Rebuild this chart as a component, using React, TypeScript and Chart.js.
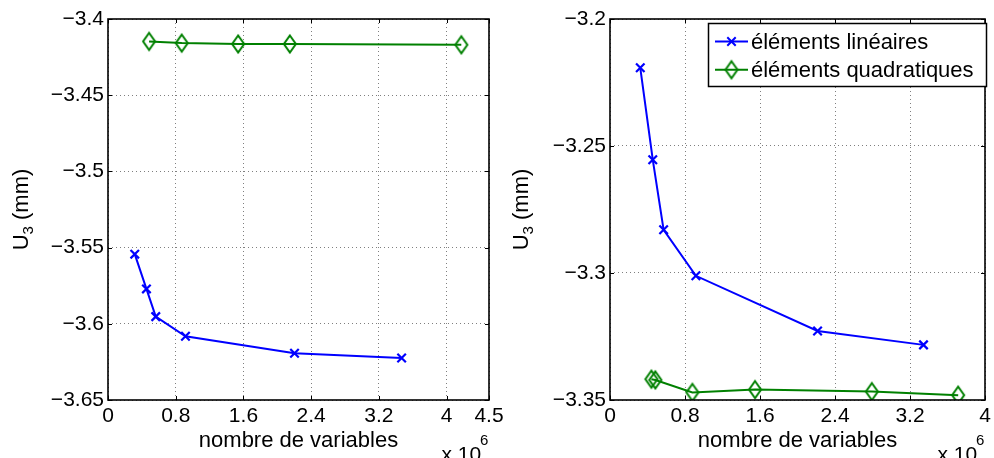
import React, { useEffect, useRef } from "react";
import { Chart, registerables } from "chart.js";
Chart.register(...registerables);

// ---------- data (x in units of 10^6 variables, y = U3 in mm) ----------
const seriesNames = ["éléments linéaires", "éléments quadratiques"];

const leftLinearX = [0.316, 0.454, 0.564, 0.915, 2.203, 3.468];
const leftLinearY = [-3.5543, -3.5771, -3.5953, -3.6082, -3.6193, -3.6224];
const leftQuadX = [0.485, 0.871, 1.537, 2.148, 4.173];
const leftQuadY = [-3.4147, -3.4158, -3.4164, -3.4164, -3.4169];

const rightLinearX = [0.323, 0.456, 0.572, 0.916, 2.214, 3.344];
const rightLinearY = [-3.2192, -3.2554, -3.283, -3.3011, -3.3228, -3.3283];
const rightQuadX = [0.442, 0.484, 0.879, 1.547, 2.793, 3.714];
const rightQuadY = [-3.3418, -3.3421, -3.347, -3.3459, -3.3467, -3.3481];

const leftXTicks = [0, 0.8, 1.6, 2.4, 3.2, 4, 4.5];
const leftXTickLabels = ["0", "0.8", "1.6", "2.4", "3.2", "4", "4.5"];
const leftYTicks = [-3.65, -3.6, -3.55, -3.5, -3.45, -3.4];
const leftYTickLabels = ["\u22123.65", "\u22123.6", "\u22123.55", "\u22123.5", "\u22123.45", "\u22123.4"];

const rightXTicks = [0, 0.8, 1.6, 2.4, 3.2, 4];
const rightXTickLabels = ["0", "0.8", "1.6", "2.4", "3.2", "4"];
const rightYTicks = [-3.35, -3.3, -3.25, -3.2];
const rightYTickLabels = ["\u22123.35", "\u22123.3", "\u22123.25", "\u22123.2"];

const xTitle = "nombre de variables";
const yTitleMain = "U";
const yTitleSub = "3";
const yTitleUnit = " (mm)";
const expBase = "x 10";
const expPower = "6";

// ---------- styles ----------
const W = 994;
const H = 458;
const FONT = "'Liberation Sans', Arial, Helvetica, sans-serif";
const BLUE = "#0000ff";
const GREEN = "#008000";
const GRID = "rgba(0,0,0,0.5)";

function makeDiamond(color: string): HTMLCanvasElement {
  const c = document.createElement("canvas");
  c.width = 16;
  c.height = 22;
  const g = c.getContext("2d")!;
  g.strokeStyle = color;
  g.lineWidth = 2;
  g.beginPath();
  g.moveTo(8, 2.5);
  g.lineTo(14, 11);
  g.lineTo(8, 19.5);
  g.lineTo(2, 11);
  g.closePath();
  g.stroke();
  return c;
}

type Panel = {
  linX: number[];
  linY: number[];
  quadX: number[];
  quadY: number[];
  xMax: number;
  yMin: number;
  yMax: number;
  xTicks: number[];
  xLabels: string[];
  yTicks: number[];
  yLabels: string[];
  padLeft: number;
  padRight: number;
  yAxisWidth: number;
  yTitleOffset: number;
  legend: boolean;
};

const leftPanel: Panel = {
  linX: leftLinearX,
  linY: leftLinearY,
  quadX: leftQuadX,
  quadY: leftQuadY,
  xMax: 4.5,
  yMin: -3.65,
  yMax: -3.4,
  xTicks: leftXTicks,
  xLabels: leftXTickLabels,
  yTicks: leftYTicks,
  yLabels: leftYTickLabels,
  padLeft: 0,
  padRight: W - 489,
  yAxisWidth: 108,
  yTitleOffset: 80,
  legend: false,
};

const rightPanel: Panel = {
  linX: rightLinearX,
  linY: rightLinearY,
  quadX: rightQuadX,
  quadY: rightQuadY,
  xMax: 4,
  yMin: -3.35,
  yMax: -3.2,
  xTicks: rightXTicks,
  xLabels: rightXTickLabels,
  yTicks: rightYTicks,
  yLabels: rightYTickLabels,
  padLeft: 500,
  padRight: W - 990,
  yAxisWidth: 110,
  yTitleOffset: 82,
  legend: true,
};

function decorPlugin(p: Panel, diamond: HTMLCanvasElement) {
  return {
    id: "decor",
    afterDatasetsDraw(chart: any) {
      const { ctx, chartArea: a, scales } = chart;
      ctx.save();
      // inward tick marks
      ctx.strokeStyle = "#000";
      ctx.lineWidth = 1;
      const tl = 4;
      ctx.beginPath();
      for (const t of scales.x.ticks) {
        const x = Math.round(scales.x.getPixelForValue(t.value)) + 0.5;
        ctx.moveTo(x, a.bottom);
        ctx.lineTo(x, a.bottom - tl);
        ctx.moveTo(x, a.top);
        ctx.lineTo(x, a.top + tl);
      }
      for (const t of scales.y.ticks) {
        const y = Math.round(scales.y.getPixelForValue(t.value)) + 0.5;
        ctx.moveTo(a.left, y);
        ctx.lineTo(a.left + tl, y);
        ctx.moveTo(a.right, y);
        ctx.lineTo(a.right - tl, y);
      }
      ctx.stroke();
      // box
      ctx.lineWidth = 1.6;
      ctx.strokeRect(a.left, a.top, a.right - a.left, a.bottom - a.top);
      ctx.restore();
    },
    afterDraw(chart: any) {
      const { ctx, chartArea: a } = chart;
      ctx.save();
      ctx.fillStyle = "#000";
      // x title
      ctx.font = `22px ${FONT}`;
      ctx.textAlign = "center";
      ctx.textBaseline = "alphabetic";
      ctx.fillText(xTitle, (a.left + a.right) / 2, 447);
      // exponent
      ctx.textAlign = "left";
      ctx.font = `21px ${FONT}`;
      ctx.fillText(expBase, a.right - 47.5, 461);
      ctx.font = `15px ${FONT}`;
      ctx.fillText(expPower, a.right - 9, 445);
      // y title (rotated)
      ctx.translate(a.left - p.yTitleOffset, (a.top + a.bottom) / 2);
      ctx.rotate(-Math.PI / 2);
      ctx.font = `22px ${FONT}`;
      const wU = ctx.measureText(yTitleMain).width;
      const wRest = ctx.measureText(yTitleUnit).width;
      ctx.font = `15px ${FONT}`;
      const w3 = ctx.measureText(yTitleSub).width;
      const start = -(wU + w3 + wRest) / 2;
      ctx.font = `22px ${FONT}`;
      ctx.fillText(yTitleMain, start, 0);
      ctx.fillText(yTitleUnit, start + wU + w3, 0);
      ctx.font = `15px ${FONT}`;
      ctx.fillText(yTitleSub, start + wU, 5);
      ctx.restore();

      if (p.legend) {
        ctx.save();
        const bx = 708.5, by = 23.5, bw = 278, bh = 63;
        ctx.fillStyle = "#fff";
        ctx.fillRect(bx, by, bw, bh);
        ctx.strokeStyle = "#000";
        ctx.lineWidth = 1.5;
        ctx.strokeRect(bx, by, bw, bh);
        const rows = [
          { y: 41.5, base: 48.7, color: BLUE, marker: "cross", label: seriesNames[0] },
          { y: 69.7, base: 77.3, color: GREEN, marker: "diamond", label: seriesNames[1] },
        ];
        for (const r of rows) {
          ctx.strokeStyle = r.color;
          ctx.lineWidth = 2;
          ctx.beginPath();
          ctx.moveTo(715, r.y);
          ctx.lineTo(748, r.y);
          ctx.stroke();
          const cx = 731.5;
          if (r.marker === "cross") {
            const d = 4.2;
            ctx.beginPath();
            ctx.moveTo(cx - d, r.y - d);
            ctx.lineTo(cx + d, r.y + d);
            ctx.moveTo(cx - d, r.y + d);
            ctx.lineTo(cx + d, r.y - d);
            ctx.stroke();
          } else {
            ctx.drawImage(diamond, cx - 8, r.y - 11);
          }
          ctx.fillStyle = "#000";
          ctx.font = `22px ${FONT}`;
          ctx.textAlign = "left";
          ctx.textBaseline = "alphabetic";
          ctx.fillText(r.label, 751, r.base);
        }
        ctx.restore();
      }
    },
  };
}

function makeConfig(p: Panel, diamond: HTMLCanvasElement): any {
  const tickFont = { family: FONT, size: 21 };
  return {
    type: "line",
    data: {
      datasets: [
        {
          label: seriesNames[0],
          data: p.linX.map((x, i) => ({ x, y: p.linY[i] })),
          borderColor: BLUE,
          backgroundColor: BLUE,
          borderWidth: 2,
          pointStyle: "crossRot",
          pointRadius: 6,
          pointBorderWidth: 2.2,
          pointBorderColor: BLUE,
          tension: 0,
          fill: false,
        },
        {
          label: seriesNames[1],
          data: p.quadX.map((x, i) => ({ x, y: p.quadY[i] })),
          borderColor: GREEN,
          backgroundColor: "rgba(0,0,0,0)",
          borderWidth: 2,
          pointStyle: diamond,
          pointRadius: 7,
          tension: 0,
          fill: false,
        },
      ],
    },
    options: {
      responsive: false,
      animation: false,
      devicePixelRatio: 1,
      events: [],
      layout: { padding: { left: p.padLeft, right: p.padRight, top: 19, bottom: 0 } },
      plugins: { legend: { display: false }, tooltip: { enabled: false } },
      scales: {
        x: {
          type: "linear",
          min: 0,
          max: p.xMax,
          afterBuildTicks: (s: any) => {
            s.ticks = p.xTicks.map((v) => ({ value: v }));
          },
          afterFit: (s: any) => {
            s.height = 58;
            s.paddingLeft = 0;
            s.paddingRight = 0;
          },
          ticks: {
            autoSkip: false,
            maxRotation: 0,
            minRotation: 0,
            padding: 4,
            color: "#000",
            font: tickFont,
            callback: (_v: any, i: number) => p.xLabels[i],
          },
          grid: { color: GRID, lineWidth: 1, drawTicks: false },
          border: { display: false, dash: [1, 3] },
        },
        y: {
          type: "linear",
          min: p.yMin,
          max: p.yMax,
          afterBuildTicks: (s: any) => {
            s.ticks = p.yTicks.map((v) => ({ value: v }));
          },
          afterFit: (s: any) => {
            s.width = p.yAxisWidth;
            s.paddingTop = 0;
            s.paddingBottom = 0;
          },
          ticks: {
            autoSkip: false,
            padding: 4,
            color: "#000",
            font: tickFont,
            callback: (_v: any, i: number) => p.yLabels[i],
          },
          grid: { color: GRID, lineWidth: 1, drawTicks: false },
          border: { display: false, dash: [1, 3] },
        },
      },
    },
  };
}

export default function App() {
  const leftRef = useRef<HTMLCanvasElement>(null);
  const rightRef = useRef<HTMLCanvasElement>(null);

  useEffect(() => {
    const diamond = makeDiamond(GREEN);
    const charts: Chart[] = [];
    const pairs: [React.RefObject<HTMLCanvasElement>, Panel][] = [
      [leftRef, leftPanel],
      [rightRef, rightPanel],
    ];
    for (const [ref, p] of pairs) {
      if (!ref.current) continue;
      const cfg = makeConfig(p, diamond);
      cfg.plugins = [decorPlugin(p, diamond)];
      charts.push(new Chart(ref.current, cfg));
    }
    return () => charts.forEach((c) => c.destroy());
  }, []);

  const canvasStyle: React.CSSProperties = {
    position: "absolute",
    left: 0,
    top: 0,
    width: W,
    height: H,
  };

  return (
    <div
      style={{
        position: "absolute",
        left: 0,
        top: 0,
        width: W,
        height: H,
        background: "#fff",
        overflow: "hidden",
      }}
    >
      <canvas ref={leftRef} width={W} height={H} style={canvasStyle} />
      <canvas ref={rightRef} width={W} height={H} style={canvasStyle} />
    </div>
  );
}
